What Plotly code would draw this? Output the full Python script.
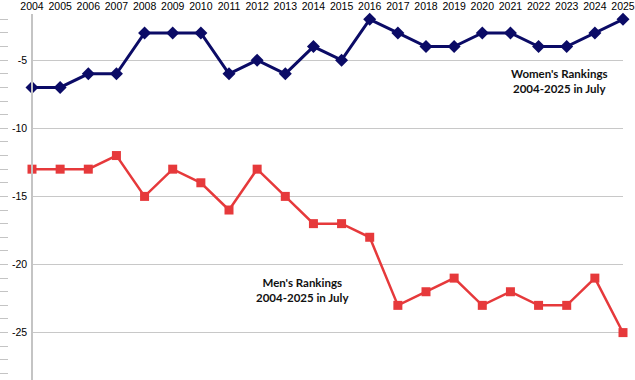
import plotly.graph_objects as go

years = list(range(2004, 2026))
women = [-7, -7, -6, -6, -3, -3, -3, -6, -5, -6, -4, -5, -2, -3, -4, -4, -3, -3, -4, -4, -3, -2]
men = [-13, -13, -13, -12, -15, -13, -14, -16, -13, -15, -17, -17, -18, -23, -22, -21, -23, -22, -23, -23, -21, -25]
y_ticks = [-5, -10, -15, -20, -25]

W, H = 635, 380
L_AX = 32
R_MARGIN = 12
T_MARGIN = 14
plot_w = W - R_MARGIN
PX = 13.62
yr = [-10 - (380 - 128.3) / PX, -5 + (60.2 - T_MARGIN) / PX]

fig = go.Figure()
fig.add_trace(go.Scatter(
    x=years, y=women, mode="lines+markers", name="Women",
    line=dict(color="#0b0b66", width=3),
    marker=dict(symbol="diamond", size=10, color="#0b0b66"),
    cliponaxis=False, showlegend=False, yaxis="y"))
fig.add_trace(go.Scatter(
    x=years, y=men, mode="lines+markers", name="Men",
    line=dict(color="#e6393b", width=2.5),
    marker=dict(symbol="square", size=9, color="#e6393b"),
    cliponaxis=False, showlegend=False, yaxis="y2"))

fig.add_annotation(x=2022.75, y=-6.55, xref="x", yref="y",
                   text="<b>Women's Rankings<br>2004-2025 in July</b>", showarrow=False,
                   font=dict(family="Lato", size=11.5, color="#111111"))
fig.add_annotation(x=2013.6, y=-21.9, xref="x", yref="y",
                   text="<b>Men's Rankings<br>2004-2025 in July</b>", showarrow=False,
                   font=dict(family="Lato", size=11.5, color="#111111"))

fig.update_layout(
    width=W, height=H,
    margin=dict(l=0, r=R_MARGIN, t=T_MARGIN, b=0, autoexpand=False),
    paper_bgcolor="white", plot_bgcolor="white",
    font=dict(family="Liberation Sans", size=10.5, color="black"),
    xaxis=dict(domain=[L_AX / plot_w, 1], range=[2004, 2025], side="top",
               tickvals=years, ticktext=[str(y) for y in years], tickangle=0,
               ticks="", showgrid=False, ticklabelstandoff=1, automargin=False,
               ticklabeloverflow="allow",
               showline=False, zeroline=False, anchor="y",
               tickfont=dict(size=10.5)),
    yaxis=dict(range=yr, tickvals=y_ticks, ticktext=[str(v) for v in y_ticks],
               anchor="free", position=L_AX / plot_w, side="left", automargin=False,
               showgrid=True, gridcolor="#c8c8c8", gridwidth=1,
               showline=True, linecolor="#c4c4c4", linewidth=1.5, mirror=True,
               zeroline=False, ticks="", ticklabelstandoff=2,
               tickfont=dict(size=10.5)),
    yaxis2=dict(range=yr, overlaying="y", anchor="free", position=8 / plot_w,
                side="left", showgrid=False, showline=False, zeroline=False,
                automargin=False,
                showticklabels=False, ticks="outside", ticklen=8,
                tickcolor="#c4c4c4", tickwidth=1, dtick=1, tick0=0),
)

fig.write_html("out.html", config={"displayModeBar": False},
               post_script="document.body.style.margin='0';")
